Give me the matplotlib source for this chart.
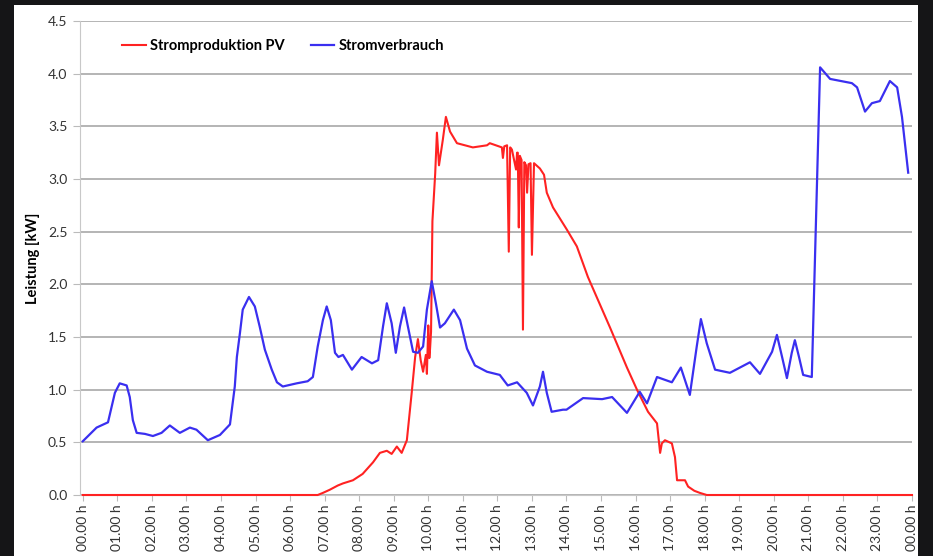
import numpy as np
import matplotlib
matplotlib.use("Agg")
from matplotlib import pyplot as plt
from matplotlib.patches import Rectangle

plt.rcParams['font.family'] = ['Lato', 'DejaVu Sans']

# Stromverbrauch (hour, kW)
verbrauch_h = [0.0, 0.40, 0.73, 0.93, 1.07, 1.27, 1.36, 1.45, 1.56, 1.80, 2.03, 2.28, 2.52, 2.81,
               3.10, 3.29, 3.62, 3.97, 4.26, 4.40, 4.46, 4.55, 4.63, 4.81, 4.98, 5.12, 5.27,
               5.47, 5.62, 5.79, 6.19, 6.51, 6.66, 6.80, 6.95, 7.06, 7.18, 7.30,
               7.40, 7.53, 7.79, 8.07, 8.37, 8.55, 8.69, 8.80, 8.94, 9.06, 9.18, 9.30, 9.41,
               9.56, 9.70, 9.85, 9.96, 10.10, 10.22, 10.34, 10.48, 10.74, 10.92, 11.12, 11.35,
               11.70, 12.07, 12.30, 12.57, 12.85, 13.03, 13.23, 13.32, 13.43, 13.57, 13.90,
               14.0, 14.48, 15.03, 15.32, 15.75, 16.12, 16.33, 16.62, 17.05, 17.31, 17.57,
               17.77, 17.89, 18.06, 18.30, 18.73, 19.31, 19.60, 19.95, 20.09, 20.24, 20.38,
               20.52, 20.61, 20.73, 20.85, 21.10, 21.34, 21.63, 22.26, 22.41, 22.64, 22.84,
               23.07, 23.36, 23.57, 23.71, 23.89]
verbrauch_kw = [0.51, 0.64, 0.69, 0.97, 1.06, 1.04, 0.93, 0.71, 0.59, 0.58, 0.56, 0.59, 0.66, 0.59,
                0.64, 0.62, 0.52, 0.57, 0.67, 1.03, 1.31, 1.54, 1.76, 1.88, 1.79, 1.60, 1.38,
                1.19, 1.07, 1.03, 1.06, 1.08, 1.12, 1.41, 1.66, 1.79, 1.66, 1.35,
                1.31, 1.33, 1.19, 1.31, 1.25, 1.28, 1.60, 1.82, 1.63, 1.35, 1.60, 1.78, 1.60,
                1.36, 1.35, 1.41, 1.76, 2.03, 1.82, 1.59, 1.63, 1.76, 1.66, 1.39, 1.23,
                1.17, 1.14, 1.04, 1.07, 0.97, 0.85, 1.03, 1.17, 0.97, 0.79, 0.81,
                0.81, 0.92, 0.91, 0.93, 0.78, 0.98, 0.87, 1.12, 1.07, 1.21, 0.95,
                1.41, 1.67, 1.44, 1.19, 1.16, 1.26, 1.15, 1.36, 1.52, 1.31, 1.11,
                1.35, 1.47, 1.31, 1.14, 1.12, 4.06, 3.95, 3.91, 3.87, 3.64, 3.72,
                3.74, 3.93, 3.87, 3.59, 3.06]

# Stromproduktion PV (hour, kW)
pv_h = [0.0, 6.80, 6.95, 7.15, 7.38, 7.53, 7.82, 8.10, 8.40, 8.60, 8.80, 8.94, 9.09, 9.23, 9.38,
        9.52, 9.62, 9.70, 9.78, 9.85, 9.93, 9.96, 10.0, 10.03, 10.05, 10.08, 10.12, 10.20, 10.25,
        10.31, 10.42, 10.51, 10.63, 10.83, 11.29, 11.70, 11.78, 12.13, 12.16, 12.20, 12.28,
        12.33, 12.37, 12.42, 12.54, 12.57, 12.59, 12.62, 12.65, 12.70, 12.74, 12.78, 12.83,
        12.86, 12.90, 12.96, 13.0, 13.06, 13.23, 13.35, 13.43, 13.61, 14.01, 14.30, 14.62,
        15.26, 15.75, 16.04, 16.36, 16.62, 16.71, 16.76, 16.85, 17.05, 17.14, 17.20, 17.43,
        17.52, 17.70, 17.86, 18.06, 24.0]
pv_kw = [0.0, 0.0, 0.02, 0.05, 0.09, 0.11, 0.14, 0.20, 0.31, 0.40, 0.42, 0.39, 0.46, 0.40, 0.52,
         0.97, 1.31, 1.48, 1.28, 1.17, 1.33, 1.15, 1.61, 1.30, 1.38, 1.55, 2.60, 3.05, 3.44,
         3.13, 3.37, 3.59, 3.45, 3.34, 3.30, 3.32, 3.34, 3.30, 3.20, 3.31, 3.32,
         2.31, 3.30, 3.28, 3.09, 3.25, 3.25, 2.54, 3.22, 3.18, 1.57, 3.16, 3.13,
         2.87, 3.14, 3.15, 2.28, 3.15, 3.10, 3.04, 2.87, 2.73, 2.52, 2.36, 2.07,
         1.59, 1.21, 1.00, 0.79, 0.68, 0.40, 0.49, 0.52, 0.49, 0.36, 0.14, 0.14,
         0.08, 0.04, 0.02, 0.0, 0.0]

hours = np.arange(0, 25)
tick_labels = ["%02d.00 h" % (h % 24) for h in hours]
y_ticks = np.arange(0, 4.51, 0.5)

################################################################################

fig = plt.figure(figsize=(9.33, 5.56), dpi=100, facecolor="#151517")
panel = Rectangle((14 / 933, 0), 904 / 933, 551 / 556, transform=fig.transFigure,
                  facecolor="white", edgecolor="none", zorder=-10)
fig.add_artist(panel)

ax = fig.add_axes([80 / 933, 61 / 556, 832 / 933, 474 / 556])
ax.set_facecolor("white")

ax.plot(pv_h, pv_kw, color="#ff2222", linewidth=1.5, label="Stromproduktion PV",
        clip_on=False, zorder=3, solid_joinstyle="round")
ax.plot(verbrauch_h, verbrauch_kw, color="#3a2ff0", linewidth=1.6, label="Stromverbrauch",
        zorder=4, solid_joinstyle="round")

ax.set_xlim(-0.08, 24.0)
ax.set_ylim(0, 4.5)
ax.set_xticks(hours)
ax.set_xticklabels(tick_labels, rotation=90, fontsize=10, color="#333333")
ax.set_yticks(y_ticks)
ax.set_yticklabels(["%.1f" % v for v in y_ticks], fontsize=10, color="#333333")
ax.tick_params(axis="y", length=5, color="#bbbbbb", pad=4)
ax.tick_params(axis="x", length=4, color="#bbbbbb", pad=3)

ax.grid(True, axis="y", color="#a8a8a8", linewidth=1.2)
ax.set_axisbelow(True)
for s in ["top", "right"]:
    ax.spines[s].set_visible(False)
ax.spines["left"].set_color("#c8c8c8")
ax.spines["bottom"].set_color("#c8c8c8")

ax.set_ylabel("Leistung [kW]", fontsize=10.5, fontweight="bold", labelpad=6)

leg = ax.legend(loc="upper left", bbox_to_anchor=(0.035, 0.99), ncol=2, frameon=False,
                handlelength=1.6, handletextpad=0.3, columnspacing=1.8,
                prop={"weight": "bold", "size": 10.5})

fig.savefig("out.png", dpi=100, facecolor=fig.get_facecolor())
